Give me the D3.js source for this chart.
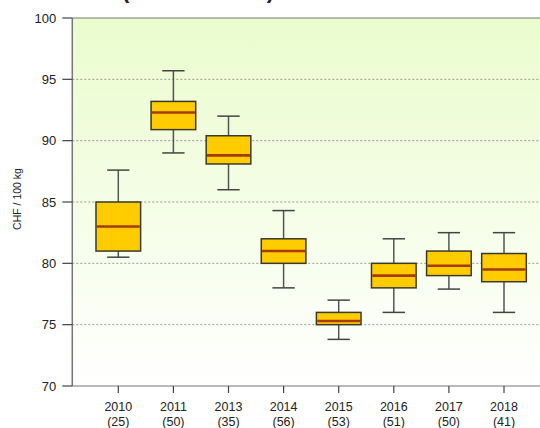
<!DOCTYPE html>
<html><head><meta charset="utf-8">
<script src="https://cdn.jsdelivr.net/npm/d3@7"></script>
<style>body{margin:0;background:#fff;}svg{display:block;font-family:"Liberation Sans",Arial,sans-serif;}</style>
</head><body><svg id="c" width="540" height="428"></svg>
<script>
const years = ["2010","2011","2013","2014","2015","2016","2017","2018"];
const counts = [25,50,35,56,53,51,50,41];
const whiskerLow = [80.5,89.0,86.0,78.0,73.8,76.0,77.9,76.0];
const q1 = [81.0,90.9,88.1,80.0,75.0,78.0,79.0,78.5];
const median = [83.0,92.3,88.8,81.0,75.3,79.0,79.8,79.5];
const q3 = [85.0,93.2,90.4,82.0,76.0,80.0,81.0,80.8];
const whiskerHigh = [87.6,95.7,92.0,84.3,77.0,82.0,82.5,82.5];
const yTicks = [70,75,80,85,90,95,100];

const svg = d3.select("#c");
const x = d3.scaleLinear().domain([1,8]).range([118.3,504]);
const y = d3.scaleLinear().domain([70,100]).range([386,18]);
const left = x(0.165), right = x(8.84);
const step = x(2)-x(1);
const bw = step*0.81, cw = bw*0.5;

const defs = svg.append("defs");
const g = defs.append("linearGradient").attr("id","bg").attr("x1",0).attr("y1",0).attr("x2",0).attr("y2",1);
g.append("stop").attr("offset","0%").attr("stop-color","#eafccd");
g.append("stop").attr("offset","100%").attr("stop-color","#ffffff");

svg.append("rect").attr("x",left).attr("y",y(100)).attr("width",right-left).attr("height",y(70)-y(100)).attr("fill","url(#bg)");

// title (cut off at top in the reference)
svg.append("text").attr("x",122).attr("y",-2).attr("font-size",22).attr("font-weight","bold")
  .attr("textLength",152).attr("fill","#222").text("(Franken)");

// grid
svg.append("g").selectAll("line").data(yTicks.filter(d=>d>70&&d<100)).join("line")
  .attr("x1",left).attr("x2",right).attr("y1",d=>y(d)).attr("y2",d=>y(d))
  .attr("stroke","#9a9a9a").attr("stroke-width",1).attr("stroke-dasharray","2,2");

// frame lines
svg.append("line").attr("x1",left).attr("x2",right).attr("y1",y(100)).attr("y2",y(100)).attr("stroke","#777").attr("stroke-width",1.2);
svg.append("line").attr("x1",left).attr("x2",right).attr("y1",y(70)).attr("y2",y(70)).attr("stroke","#777").attr("stroke-width",1.2);
svg.append("line").attr("x1",left).attr("x2",left).attr("y1",y(100)).attr("y2",y(70)).attr("stroke","#777").attr("stroke-width",1.5);

// y axis ticks
const ya = svg.append("g");
ya.selectAll("line").data(yTicks).join("line")
  .attr("x1",left-10).attr("x2",left).attr("y1",d=>y(d)).attr("y2",d=>y(d)).attr("stroke","#444").attr("stroke-width",1.2);
ya.selectAll("text").data(yTicks).join("text")
  .attr("x",left-16).attr("y",d=>y(d)).attr("dy","0.35em").attr("text-anchor","end")
  .attr("font-size",13).attr("fill","#222").text(d=>d);

// y label
svg.append("text").attr("transform","translate(21,199) rotate(-90)").attr("text-anchor","middle")
  .attr("font-size",10.5).attr("fill","#222").text("CHF / 100 kg");

// x axis ticks
const xa = svg.append("g");
xa.selectAll("line").data(years).join("line")
  .attr("x1",(d,i)=>x(i+1)).attr("x2",(d,i)=>x(i+1)).attr("y1",y(70)).attr("y2",y(70)+7).attr("stroke","#444").attr("stroke-width",1.2);
xa.selectAll("text.yr").data(years).join("text").attr("class","yr")
  .attr("x",(d,i)=>x(i+1)).attr("y",411).attr("text-anchor","middle").attr("font-size",12.5).attr("fill","#222").text(d=>d);
xa.selectAll("text.n").data(counts).join("text").attr("class","n")
  .attr("x",(d,i)=>x(i+1)).attr("y",425.5).attr("text-anchor","middle").attr("font-size",12.5).attr("fill","#222").text(d=>"("+d+")");

// boxes
const bx = svg.append("g").selectAll("g").data(years).join("g");
bx.append("line").attr("x1",(d,i)=>x(i+1)).attr("x2",(d,i)=>x(i+1))
  .attr("y1",(d,i)=>y(whiskerHigh[i])).attr("y2",(d,i)=>y(q3[i])).attr("stroke","#555").attr("stroke-width",1.5);
bx.append("line").attr("x1",(d,i)=>x(i+1)).attr("x2",(d,i)=>x(i+1))
  .attr("y1",(d,i)=>y(q1[i])).attr("y2",(d,i)=>y(whiskerLow[i])).attr("stroke","#555").attr("stroke-width",1.5);
bx.append("line").attr("x1",(d,i)=>x(i+1)-cw/2).attr("x2",(d,i)=>x(i+1)+cw/2)
  .attr("y1",(d,i)=>y(whiskerHigh[i])).attr("y2",(d,i)=>y(whiskerHigh[i])).attr("stroke","#444").attr("stroke-width",1.5);
bx.append("line").attr("x1",(d,i)=>x(i+1)-cw/2).attr("x2",(d,i)=>x(i+1)+cw/2)
  .attr("y1",(d,i)=>y(whiskerLow[i])).attr("y2",(d,i)=>y(whiskerLow[i])).attr("stroke","#444").attr("stroke-width",1.5);
bx.append("rect").attr("x",(d,i)=>x(i+1)-bw/2).attr("width",bw)
  .attr("y",(d,i)=>y(q3[i])).attr("height",(d,i)=>y(q1[i])-y(q3[i]))
  .attr("fill","#ffcc00").attr("stroke","#3a3a2a").attr("stroke-width",1.5);
bx.append("line").attr("x1",(d,i)=>x(i+1)-bw/2+0.8).attr("x2",(d,i)=>x(i+1)+bw/2-0.8)
  .attr("y1",(d,i)=>y(median[i])).attr("y2",(d,i)=>y(median[i])).attr("stroke","#a83a00").attr("stroke-width",2.6);
</script></body></html>
